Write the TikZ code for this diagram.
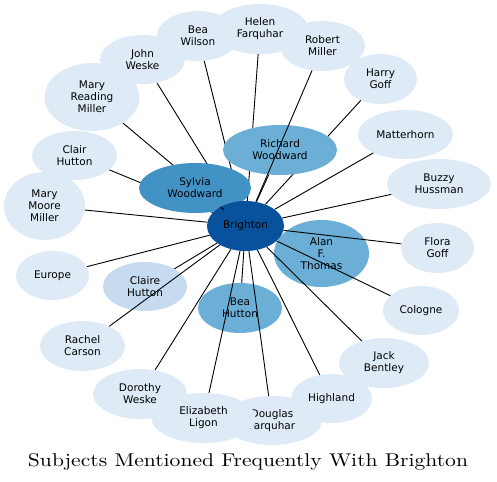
\documentclass[tikz,border=0pt]{standalone}
\usepackage{fontspec}
\usepackage{graphicx}
\newfontfamily\dvsans{DejaVu Sans}
\usetikzlibrary{shapes.geometric}
\definecolor{lightb}{HTML}{DEEBF7}
\definecolor{paleb}{HTML}{C6DBEF}
\definecolor{midb}{HTML}{6BAED6}
\definecolor{deepb}{HTML}{4292C6}
\definecolor{darkb}{HTML}{08519C}
\pgfdeclarelayer{edgesbg}
\pgfdeclarelayer{midnodes}
\pgfsetlayers{edgesbg,midnodes,main}
\begin{document}
\begin{tikzpicture}[x=1pt,y=-1pt,
  bub/.style={ellipse, inner sep=0pt, align=center, font=\dvsans\fontsize{10.5}{12}\selectfont, text=black},
  light/.style={bub, fill=lightb},
  pale/.style={bub, fill=paleb},
  mid/.style={bub, fill=midb},
  deep/.style={bub, fill=deepb},
  hub/.style={bub, fill=darkb},
  link/.style={draw=black, line width=0.9pt}]
\useasboundingbox (0,0) rectangle (497,481);

% medium nodes
\begin{pgfonlayer}{midnodes}
\node[mid, minimum width=114, minimum height=50] (richard) at (280,150) {Richard\\Woodward};
\node[deep, minimum width=112, minimum height=50] (sylvia) at (195,188) {Sylvia\\Woodward};
\node[mid, minimum width=95, minimum height=67] (alan) at (321.5,253.5) {Alan\\F.\\Thomas};
\node[mid, minimum width=84, minimum height=50] (beah) at (240,308) {Bea\\Hutton};
\node[pale, minimum width=84, minimum height=49] (claire) at (145,286.5) {Claire\\Hutton};
\end{pgfonlayer}

% light nodes
\node[light, minimum width=81, minimum height=68] (mmm) at (44.5,206) {Mary\\Moore\\Miller};
\node[light, minimum width=85, minimum height=49] (clair) at (74.5,155.5) {Clair\\Hutton};
\node[light, minimum width=95, minimum height=68] (mrm) at (92,97) {Mary\\Reading\\Miller};
\node[light, minimum width=85, minimum height=49] (john) at (142.5,59.5) {John\\Weske};
\node[light, minimum width=82, minimum height=50] (beaw) at (198,36) {Bea\\Wilson};
\node[light, minimum width=85, minimum height=50] (robert) at (322.5,46) {Robert\\Miller};
\node[light, minimum width=96, minimum height=50] (helen) at (260,29) {Helen\\Farquhar};
\node[light, minimum width=73, minimum height=50] (harry) at (380.5,79) {Harry\\Goff};
\node[light, minimum width=95, minimum height=49] (matter) at (405.5,134.5) {Matterhorn};
\node[light, minimum width=104, minimum height=50] (buzzy) at (439,184) {Buzzy\\Hussman};
\node[light, minimum width=73, minimum height=50] (flora) at (437.5,248) {Flora\\Goff};
\node[light, minimum width=76, minimum height=49] (cologne) at (421,310.5) {Cologne};
\node[light, minimum width=90, minimum height=50] (jack) at (384,363) {Jack\\Bentley};
\node[light, minimum width=81, minimum height=49] (highland) at (331.5,398.5) {Highland};
\node[light, minimum width=100, minimum height=49] (douglas) at (272,420.5) {Douglas\\Farquhar};
\node[light, minimum width=94, minimum height=50] (dorothy) at (140,394) {Dorothy\\Weske};
\node[light, minimum width=104, minimum height=50] (elizabeth) at (203.5,418) {Elizabeth\\Ligon};
\node[light, minimum width=85, minimum height=50] (rachel) at (82.5,346) {Rachel\\Carson};
\node[light, minimum width=73, minimum height=49] (europe) at (52.5,275.5) {Europe};

% hub
\node[hub, minimum width=77, minimum height=50] (brighton) at (245.5,226) {Brighton};

% edges hidden below the medium nodes
\begin{pgfonlayer}{edgesbg}
\foreach \n in {mmm,clair,mrm,john,helen,beaw,harry,matter,buzzy,highland,dorothy,europe,richard,alan,beah,claire}
  \draw[link] (\n) -- (brighton);
\end{pgfonlayer}

% edges drawn over the medium nodes
\foreach \n in {robert,flora,cologne,jack,elizabeth,douglas,rachel,sylvia}
  \draw[link] (\n) -- (brighton);

\node[anchor=base] (title) at (248,466) {\resizebox{440pt}{13pt}{\fontsize{10}{12}\selectfont Subjects Mentioned Frequently With Brighton}};
\end{tikzpicture}
\end{document}
